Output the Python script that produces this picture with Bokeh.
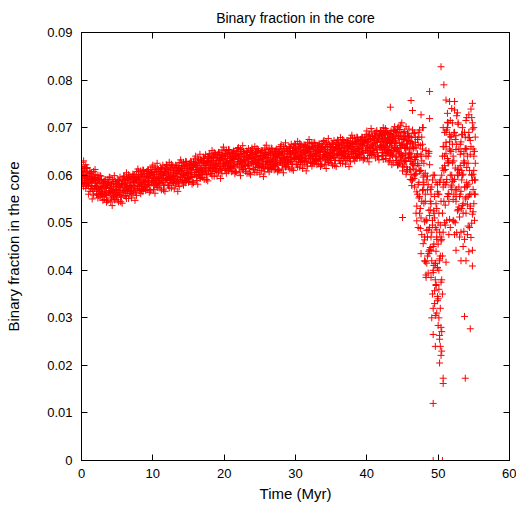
import numpy as np
from bokeh.plotting import figure
from bokeh.models import ColumnDataSource, LinearAxis, FixedTicker, CustomJSTickFormatter, Range1d
from bokeh.embed import file_html
from bokeh.resources import INLINE

# Binary fraction, in units of 1e-4, one sample every 0.1 Myr
# (three readings per time sample across the dense band of points)
frac_a = [
    609, 597, 615, 600, 585, 606, 593, 614, 584, 594,
    577, 598, 584, 603, 577, 587, 566, 589, 593, 575,
    601, 559, 583, 552, 591, 566, 599, 559, 573, 583,
    564, 586, 549, 575, 590, 557, 579, 546, 584, 568,
    579, 566, 552, 591, 563, 582, 548, 570, 586, 557,
    548, 578, 588, 560, 574, 544, 583, 592, 564, 597,
    580, 569, 589, 575, 562, 584, 572, 595, 566, 578,
    569, 591, 578, 598, 573, 584, 564, 588, 593, 576,
    608, 567, 592, 561, 601, 577, 611, 571, 586, 597,
    585, 607, 570, 596, 611, 578, 600, 567, 605, 589,
    605, 592, 578, 617, 589, 608, 574, 596, 612, 583,
    573, 603, 613, 585, 599, 569, 608, 617, 589, 622,
    602, 591, 611, 597, 584, 606, 594, 617, 588, 600,
    588, 610, 597, 617, 592, 603, 583, 607, 612, 595,
    626, 585, 610, 579, 619, 595, 629, 589, 604, 615,
    602, 624, 587, 613, 628, 595, 617, 584, 622, 606,
    624, 611, 597, 636, 608, 627, 593, 615, 631, 602,
    595, 625, 635, 607, 621, 591, 630, 639, 611, 644,
    627, 616, 636, 622, 609, 631, 619, 642, 613, 625,
    615, 637, 624, 644, 619, 630, 610, 634, 639, 622,
    651, 610, 635, 604, 644, 620, 654, 614, 629, 640,
    624, 646, 609, 635, 650, 617, 639, 606, 644, 628,
    642, 629, 615, 654, 626, 645, 611, 633, 649, 620,
    608, 638, 648, 620, 634, 604, 643, 652, 624, 657,
    635, 624, 644, 630, 617, 639, 627, 650, 621, 633,
    619, 641, 628, 648, 623, 634, 614, 638, 643, 626,
    654, 613, 638, 607, 647, 623, 657, 617, 632, 643,
    628, 650, 613, 639, 654, 621, 643, 610, 648, 632,
    648, 635, 621, 660, 632, 651, 617, 639, 655, 626,
    617, 647, 657, 629, 643, 613, 652, 661, 633, 666,
    646, 635, 655, 641, 628, 650, 638, 661, 632, 644,
    631, 653, 640, 660, 635, 646, 626, 650, 655, 638,
    666, 625, 650, 619, 659, 635, 669, 629, 644, 655,
    639, 661, 624, 650, 665, 632, 654, 621, 659, 643,
    657, 644, 630, 669, 641, 660, 626, 648, 664, 635,
    625, 655, 665, 637, 651, 621, 660, 669, 641, 674,
    654, 643, 663, 649, 636, 658, 646, 669, 640, 652,
    640, 662, 649, 669, 644, 655, 635, 659, 664, 647,
    677, 636, 661, 630, 670, 646, 680, 640, 655, 666,
    653, 675, 638, 664, 679, 646, 668, 635, 673, 657,
    674, 661, 647, 686, 658, 677, 643, 665, 681, 652,
    643, 673, 683, 655, 669, 639, 678, 687, 659, 692,
    671, 657, 683, 664, 647, 676, 660, 690, 653, 668,
    647, 676, 659, 685, 652, 667, 641, 672, 678, 656,
    692, 630, 668, 621, 681, 645, 696, 636, 658, 675,
    641, 676, 617, 658, 682, 630, 665, 612, 673, 647,
    655, 629, 601, 679, 623, 661, 593, 637, 669, 611,
    504, 624, 664, 552, 608, 488, 644, 680, 568, 700,
    541, 464, 604, 506, 415, 569, 485, 646, 443, 527,
    540, 575, 505, 600, 520, 555, 490, 585, 530, 565,
    560, 520, 585, 495, 545, 600, 640, 575, 660, 620,
    580, 690, 505, 635, 710, 545, 655, 490, 680, 600,
    665, 587, 503, 737, 569, 683, 479, 611, 707, 533,
    512, 644, 566, 686, 536, 602, 482, 626, 656, 554,
    721, 475, 625, 439, 679, 535, 739, 499, 589, 655,
    610, 560, 680,
]
frac_b = [
    627, 585, 608, 576, 614, 589, 622, 580, 594, 603,
    583, 604, 566, 591, 605, 571, 592, 558, 595, 578,
    590, 576, 561, 600, 571, 589, 554, 576, 591, 561,
    547, 577, 587, 559, 573, 543, 582, 591, 563, 596,
    572, 561, 581, 567, 554, 576, 564, 587, 558, 570,
    559, 581, 568, 588, 563, 574, 554, 578, 583, 566,
    598, 557, 582, 551, 591, 567, 601, 561, 576, 587,
    575, 597, 560, 586, 601, 568, 590, 557, 595, 579,
    597, 584, 570, 609, 581, 600, 566, 588, 604, 575,
    568, 598, 608, 580, 594, 564, 603, 612, 584, 617,
    598, 587, 607, 593, 580, 602, 590, 613, 584, 596,
    584, 606, 593, 613, 588, 599, 579, 603, 608, 591,
    620, 579, 604, 573, 613, 589, 623, 583, 598, 609,
    594, 616, 579, 605, 620, 587, 609, 576, 614, 598,
    615, 602, 588, 627, 599, 618, 584, 606, 622, 593,
    585, 615, 625, 597, 611, 581, 620, 629, 601, 634,
    617, 606, 626, 612, 599, 621, 609, 632, 603, 615,
    606, 628, 615, 635, 610, 621, 601, 625, 630, 613,
    645, 604, 629, 598, 638, 614, 648, 608, 623, 634,
    621, 643, 606, 632, 647, 614, 636, 603, 641, 625,
    640, 627, 613, 652, 624, 643, 609, 631, 647, 618,
    607, 637, 647, 619, 633, 603, 642, 651, 623, 656,
    635, 624, 644, 630, 617, 639, 627, 650, 621, 633,
    619, 641, 628, 648, 623, 634, 614, 638, 643, 626,
    653, 612, 637, 606, 646, 622, 656, 616, 631, 642,
    625, 647, 610, 636, 651, 618, 640, 607, 645, 629,
    643, 630, 616, 655, 627, 646, 612, 634, 650, 621,
    611, 641, 651, 623, 637, 607, 646, 655, 627, 660,
    641, 630, 650, 636, 623, 645, 633, 656, 627, 639,
    628, 650, 637, 657, 632, 643, 623, 647, 652, 635,
    664, 623, 648, 617, 657, 633, 667, 627, 642, 653,
    637, 659, 622, 648, 663, 630, 652, 619, 657, 641,
    655, 642, 628, 667, 639, 658, 624, 646, 662, 633,
    622, 652, 662, 634, 648, 618, 657, 666, 638, 671,
    650, 639, 659, 645, 632, 654, 642, 665, 636, 648,
    636, 658, 645, 665, 640, 651, 631, 655, 660, 643,
    672, 631, 656, 625, 665, 641, 675, 635, 650, 661,
    646, 668, 631, 657, 672, 639, 661, 628, 666, 650,
    666, 653, 639, 678, 650, 669, 635, 657, 673, 644,
    636, 666, 676, 648, 662, 632, 671, 680, 652, 685,
    669, 652, 682, 661, 641, 675, 656, 691, 647, 666,
    647, 681, 661, 691, 653, 670, 640, 676, 684, 658,
    694, 641, 674, 633, 685, 654, 698, 646, 666, 680,
    654, 687, 631, 670, 693, 643, 676, 626, 684, 659,
    677, 655, 631, 697, 650, 682, 624, 662, 689, 640,
    609, 663, 681, 630, 656, 602, 672, 688, 638, 697,
    644, 611, 671, 629, 590, 656, 620, 689, 602, 638,
    535, 645, 580, 680, 555, 610, 510, 630, 655, 570,
    625, 420, 545, 390, 590, 470, 640, 440, 515, 570,
    470, 420, 495, 395, 455, 510, 380, 440, 485, 405,
    455, 400, 480, 430, 375, 465, 520, 700, 545, 690,
    495, 645, 695, 555, 625, 475, 670, 715, 575, 740,
    626, 549, 689, 591, 500, 654, 570, 731, 528, 612,
    555, 665, 480, 610, 685, 520, 630, 465, 655, 575,
    655, 577, 493, 727, 559, 673, 469, 601, 697, 523,
    540, 650, 590,
]
frac_c = [
    618, 601, 582, 630, 592, 615, 572, 597, 616, 578,
    560, 597, 608, 572, 589, 550, 598, 608, 572, 612,
    584, 569, 593, 575, 558, 585, 569, 598, 560, 574,
    555, 582, 566, 591, 560, 574, 548, 579, 585, 563,
    595, 544, 575, 536, 587, 556, 599, 549, 568, 582,
    563, 591, 544, 577, 596, 554, 582, 541, 588, 568,
    589, 573, 556, 605, 569, 593, 551, 578, 598, 562,
    552, 590, 602, 567, 585, 547, 596, 607, 572, 613,
    591, 577, 602, 584, 568, 596, 581, 610, 573, 588,
    576, 603, 587, 612, 581, 595, 569, 600, 606, 584,
    621, 570, 601, 562, 613, 582, 625, 575, 594, 608,
    588, 616, 569, 602, 621, 579, 607, 566, 613, 593,
    611, 595, 578, 627, 591, 615, 573, 600, 620, 584,
    571, 609, 621, 586, 604, 566, 615, 626, 591, 632,
    609, 595, 620, 602, 586, 614, 599, 628, 591, 606,
    593, 620, 604, 629, 598, 612, 586, 617, 623, 601,
    640, 589, 620, 581, 632, 601, 644, 594, 613, 627,
    610, 638, 591, 624, 643, 601, 629, 588, 635, 615,
    636, 620, 603, 652, 616, 640, 598, 625, 645, 609,
    598, 636, 648, 613, 631, 593, 642, 653, 618, 659,
    634, 620, 645, 627, 611, 639, 624, 653, 616, 631,
    615, 642, 626, 651, 620, 634, 608, 639, 645, 623,
    658, 607, 638, 599, 650, 619, 662, 612, 631, 645,
    623, 651, 604, 637, 656, 614, 642, 601, 648, 628,
    644, 628, 611, 660, 624, 648, 606, 633, 653, 617,
    602, 640, 652, 617, 635, 597, 646, 657, 622, 663,
    637, 623, 648, 630, 614, 642, 627, 656, 619, 634,
    619, 646, 630, 655, 624, 638, 612, 643, 649, 627,
    664, 613, 644, 605, 656, 625, 668, 618, 637, 651,
    632, 660, 613, 646, 665, 623, 651, 610, 657, 637,
    655, 639, 622, 671, 635, 659, 617, 644, 664, 628,
    614, 652, 664, 629, 647, 609, 658, 669, 634, 675,
    649, 635, 660, 642, 626, 654, 639, 668, 631, 646,
    630, 657, 641, 666, 635, 649, 623, 654, 660, 638,
    673, 622, 653, 614, 665, 634, 677, 627, 646, 660,
    640, 668, 621, 654, 673, 631, 659, 618, 665, 645,
    663, 647, 630, 679, 643, 667, 625, 652, 672, 636,
    623, 661, 673, 638, 656, 618, 667, 678, 643, 684,
    660, 646, 671, 653, 637, 665, 650, 679, 642, 657,
    644, 671, 655, 680, 649, 663, 637, 668, 674, 652,
    693, 636, 671, 628, 684, 650, 698, 642, 663, 678,
    657, 688, 636, 673, 694, 647, 678, 632, 685, 663,
    682, 662, 641, 700, 658, 687, 635, 669, 693, 649,
    628, 673, 688, 646, 667, 622, 681, 694, 652, 702,
    668, 640, 690, 655, 622, 678, 647, 705, 632, 663,
    619, 675, 642, 692, 629, 657, 607, 667, 680, 637,
    681, 591, 646, 578, 666, 613, 688, 600, 633, 657,
    565, 675, 490, 620, 695, 530, 640, 475, 665, 585,
    580, 502, 418, 652, 484, 598, 394, 526, 622, 448,
    385, 300, 350, 265, 410, 330, 240, 370, 310, 345,
    340, 300, 255, 320, 280, 230, 430, 480, 610, 500,
    537, 669, 591, 711, 561, 627, 507, 651, 681, 579,
    710, 505, 630, 475, 675, 555, 725, 525, 600, 655,
    470, 620, 670, 530, 600, 450, 645, 690, 550, 715,
    616, 539, 679, 581, 490, 644, 560, 721, 518, 602,
    700, 505, 625,
]
# a fourth reading per sample for the late, scattered part (from 42.0 Myr on)
late_start_index = 420
frac_d = [
    660, 684, 648, 672, 691, 655, 678, 642, 669, 688,
    651, 679, 668, 640, 686, 662, 674, 649, 695, 658,
    672, 638, 689, 655, 701, 626, 667, 684, 645, 710,
    663, 690, 628, 676, 645, 702, 617, 659, 684, 635,
    612, 668, 640, 590, 695, 625, 658, 575, 680, 603,
    640, 560, 690, 585, 520, 662, 610, 545, 700, 596,
    600, 470, 560, 640, 505, 430, 580, 650, 490, 545,
    560, 480, 590, 450, 525, 600, 415, 540, 470, 580,
    500, 560, 420, 590, 470, 380, 615, 660, 585, 640,
    612, 660, 585, 700, 630, 560, 685, 600, 650, 570,
    590, 640, 560, 690, 615, 545, 665, 600, 710, 575,
    605, 560, 650, 590, 700, 540, 625, 575, 680, 520,
    585, 640, 555, 690, 610, 530, 660, 600, 710, 570,
    640, 590, 560,
]
sample_step_myr = 0.1

# isolated points (time in Myr, fraction in 1e-4)
t_extra = [43.3, 46.2, 46.4, 47.6, 48.8, 48.8, 50.4, 50.8, 51.1, 51.6,
           52.3, 54.8, 51.3, 45.0, 46.9, 54.8, 54.8, 53.2, 53.9, 53.7,
           54.5, 53.8, 49.3, 49.3, 50.6, 50.7, 50.7, 50.3, 50.4, 50.2,
           49.3, 49.6, 50.0, 50.2, 50.5, 49.5, 49.7, 50.1, 50.6, 49.9,
           48.3, 49.3, 49.9, 49.6, 50.2, 51.1, 48.7, 47.6, 49.0, 52.5,
           47.9, 50.4, 49.8]
frac_extra = [743, 757, 736, 727, 776, 719, 828, 790, 758, 755,
              755, 751, 730, 511, 520, 442, 409, 420, 420, 303,
              277, 173, 120, 0, 0, 162, 173, 240, 221, 205,
              320, 305, 284, 263, 271, 357, 368, 360, 350, 336,
              385, 400, 406, 414, 424, 417, 435, 435, 442, 442,
              456, 462, 465]

x_ticks = [0, 10, 20, 30, 40, 50, 60]
y_ticks = [0, 0.01, 0.02, 0.03, 0.04, 0.05, 0.06, 0.07, 0.08, 0.09]

n = len(frac_a)
t_band = np.arange(n) * sample_step_myr
t_late = t_band[late_start_index:late_start_index + len(frac_d)]
x = np.concatenate([t_band, t_band, t_band, t_late, np.array(t_extra, dtype=float)])
y = np.concatenate([np.array(frac_a, dtype=float), np.array(frac_b, dtype=float),
                    np.array(frac_c, dtype=float), np.array(frac_d, dtype=float),
                    np.array(frac_extra, dtype=float)]) / 1e4
src = ColumnDataSource(dict(t=x, f=y))

FONT = "Liberation Sans"

p = figure(width=516, height=505, output_backend="svg", toolbar_location=None,
           x_range=Range1d(0, 60), y_range=Range1d(0, 0.09),
           title="Binary fraction in the core",
           min_border_left=81, min_border_right=7, min_border_top=32, min_border_bottom=45)
p.background_fill_color = "white"
p.border_fill_color = "white"
p.outline_line_color = "black"
p.outline_line_width = 1
p.xgrid.visible = False
p.ygrid.visible = False

p.title.text_font = FONT
p.title.text_font_size = "14px"
p.title.text_font_style = "normal"
p.title.text_color = "black"
p.title.align = "center"
p.title.vertical_align = "top"
p.title.standoff = 10

p.scatter("t", "f", source=src, marker="cross", size=7, line_color="#ff0000", line_width=1)

yfmt = CustomJSTickFormatter(code="return tick == 0 ? '0' : tick.toFixed(2);")
blank = CustomJSTickFormatter(code="return '';")


def style(ax, ticks, labels=True):
    ax.ticker = FixedTicker(ticks=ticks)
    ax.axis_line_color = "black"
    ax.major_tick_line_color = "black"
    ax.major_tick_in = 6
    ax.major_tick_out = 0
    ax.minor_tick_line_color = None
    ax.major_label_text_font = FONT
    ax.major_label_text_color = "black"
    ax.axis_label_text_font = FONT
    ax.axis_label_text_font_style = "normal"
    ax.axis_label_text_color = "black"
    if labels:
        ax.major_label_text_font_size = "13px"
        ax.axis_label_text_font_size = "15px"
    else:
        ax.major_label_text_font_size = "0px"
        ax.major_label_standoff = 0
        ax.formatter = blank


xa = p.xaxis[0]
style(xa, x_ticks)
xa.axis_label = "Time (Myr)"
xa.major_label_standoff = 8
xa.axis_label_standoff = 4

ya = p.yaxis[0]
style(ya, y_ticks)
ya.formatter = yfmt
ya.axis_label = "Binary fraction in the core"
ya.major_label_standoff = 9
ya.axis_label_standoff = 22

top = LinearAxis()
style(top, x_ticks, labels=False)
p.add_layout(top, "above")
right = LinearAxis()
style(right, y_ticks, labels=False)
p.add_layout(right, "right")

open("out.html", "w").write(file_html(p, INLINE))
